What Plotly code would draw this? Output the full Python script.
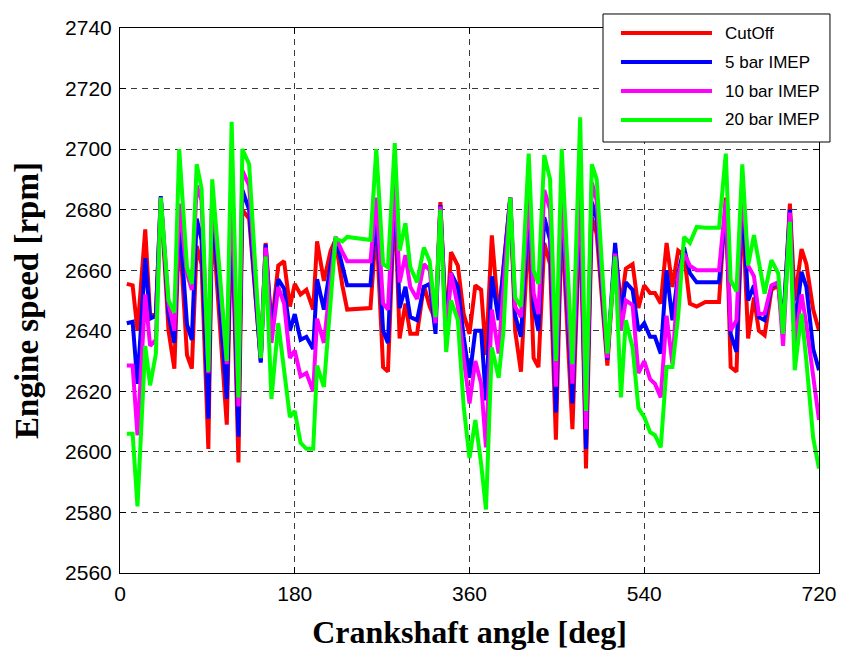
import plotly.graph_objects as go

angle = [7, 13, 18, 26, 31, 37, 42, 50, 56, 61, 69, 74, 79, 84, 91, 95, 110, 115, 122, 126,
         133, 145, 150, 156, 163, 169, 175, 180, 186, 192, 199, 203, 210, 217, 222, 229, 234, 258, 264, 271,
         276, 283, 288, 294, 299, 306, 313, 319, 325, 330, 336, 341, 348, 354, 360, 366, 372, 377, 383, 390,
         395, 402, 407, 413, 421, 426, 431, 437, 443, 449, 455, 466, 474, 480, 486, 491, 502, 510, 516, 521,
         528, 534, 540, 546, 551, 557, 563, 569, 575, 581, 587, 594, 603, 617, 624, 629, 635, 641, 647, 653,
         658, 664, 671, 678, 683, 690, 695, 702, 707, 714, 720]

cutoff = [2655.5, 2655, 2640, 2673.5, 2645, 2645.5, 2684, 2640, 2627.5, 2675, 2632, 2627.5, 2668, 2662, 2601, 2678, 2609, 2680, 2596.5, 2680,
          2677, 2630, 2669, 2641, 2661.5, 2663, 2648, 2655.5, 2652, 2653.5, 2647, 2669.5, 2656.5, 2666.5, 2670, 2655, 2647, 2647.5, 2675, 2628,
          2626.5, 2685, 2637.5, 2649, 2639, 2639, 2655, 2648, 2643.5, 2682.5, 2640, 2666, 2661.5, 2645.5, 2639, 2655, 2653.5, 2632, 2671.5, 2644.5,
          2661, 2684, 2640, 2626.5, 2675, 2631, 2628, 2669, 2662, 2604, 2677, 2607.5, 2680, 2594.5, 2677.5, 2672, 2628.5, 2667.5, 2648, 2660.5,
          2662, 2647.5, 2655, 2652.5, 2652.5, 2649, 2669, 2654.5, 2666.5, 2665, 2649, 2648, 2649.5, 2649.5, 2684, 2628, 2626.5, 2682, 2637.5, 2651,
          2640, 2638.5, 2653.5, 2655, 2640, 2682, 2650, 2667, 2662, 2647, 2640]

bar5 = [2642.5, 2643, 2622.5, 2664, 2644, 2645, 2684.5, 2645.5, 2636, 2678, 2642, 2637, 2677, 2670, 2611, 2683, 2617.5, 2683, 2605, 2686.5,
        2680, 2629.5, 2668.5, 2640, 2657, 2654, 2640, 2645.5, 2637, 2638, 2634, 2657, 2647, 2662, 2670.5, 2662, 2655, 2655, 2680, 2640,
        2636, 2688, 2647.5, 2654.5, 2644.5, 2643.5, 2654.5, 2655.5, 2639, 2681.5, 2641, 2659, 2654.5, 2638, 2624.5, 2640, 2640, 2617, 2658, 2643.5,
        2660, 2684, 2645, 2638, 2680, 2648, 2640, 2677.5, 2670, 2613, 2682, 2616, 2684, 2601, 2682.5, 2677, 2630.5, 2669, 2645, 2656,
        2653.5, 2640, 2642.5, 2638, 2638, 2632.5, 2660, 2643.5, 2659, 2667.5, 2659, 2656, 2656, 2656, 2681, 2639, 2633, 2685, 2650, 2655,
        2644.5, 2643.5, 2654.5, 2656, 2642, 2680, 2640, 2659.5, 2654.5, 2634, 2627]

bar10 = [2628.5, 2628.5, 2605.5, 2652, 2635, 2637, 2684, 2649, 2640, 2682, 2659, 2653.5, 2688, 2683, 2626, 2686, 2629, 2690, 2615, 2693,
         2688, 2631, 2667.5, 2636, 2654.5, 2649, 2631, 2633.5, 2625, 2626, 2620, 2644, 2636, 2658, 2671, 2666, 2663, 2663, 2684, 2649,
         2647, 2690, 2656, 2665, 2654.5, 2650.5, 2662, 2660, 2642.5, 2681, 2636, 2659, 2648, 2631, 2616, 2630, 2622.5, 2601.5, 2647, 2632.5,
         2655, 2684, 2648, 2644.5, 2686, 2652.5, 2645.5, 2686.5, 2680, 2621.5, 2687, 2622.5, 2690, 2607.5, 2689, 2683, 2631, 2665.5, 2640, 2650,
         2648.5, 2626, 2630, 2624, 2622.5, 2618, 2645, 2629, 2658, 2665.5, 2661.5, 2660, 2660, 2660, 2683, 2640, 2643.5, 2688, 2661.5, 2658,
         2645.5, 2645.7, 2655, 2656, 2635, 2679, 2635, 2652, 2642, 2625, 2610.5]

bar20 = [2606, 2606, 2582, 2635, 2622, 2632.5, 2684, 2650, 2646, 2700, 2661, 2655.5, 2695, 2687, 2626.5, 2690, 2630, 2709, 2618, 2700,
         2695, 2631, 2664.5, 2617.5, 2642.5, 2627, 2611.5, 2613.5, 2603, 2601, 2601, 2628.5, 2621.5, 2650, 2670.5, 2669.5, 2671, 2670, 2700, 2662,
         2661, 2702, 2666.5, 2675.5, 2661, 2656, 2667.5, 2663, 2644.5, 2680, 2633, 2650, 2643.5, 2615, 2598, 2610.5, 2596, 2581, 2634.5, 2624.5,
         2640, 2684, 2651, 2648, 2698.5, 2660, 2655.5, 2698, 2690, 2630, 2700, 2629, 2710.5, 2613.5, 2695, 2690, 2632.5, 2664.5, 2618, 2643.5,
         2634.5, 2614.5, 2611.5, 2606.5, 2605.5, 2601.5, 2628, 2628, 2645, 2671, 2669, 2674.3, 2674, 2674, 2698.5, 2656.7, 2653, 2695, 2661.6, 2671.6,
         2663, 2652.3, 2663.3, 2659, 2639, 2676, 2627, 2645.7, 2630, 2604.6, 2594.5]

series_names = ["CutOff", "5 bar IMEP", "10 bar IMEP", "20 bar IMEP"]
series_values = [cutoff, bar5, bar10, bar20]
series_colors = ["#FF0000", "#0000FF", "#FF00FF", "#00FF00"]

x_ticks = [0, 180, 360, 540, 720]
y_ticks = [2560, 2580, 2600, 2620, 2640, 2660, 2680, 2700, 2720, 2740]

fig = go.Figure()
for name, vals, col in zip(series_names, series_values, series_colors):
    fig.add_trace(go.Scatter(x=angle, y=vals, mode="lines", name=name,
                             line=dict(color=col, width=4)))

axis_common = dict(
    showline=True, linecolor="black", linewidth=1, mirror="ticks",
    ticks="inside", ticklen=6, tickcolor="black",
    showgrid=True, gridcolor="#3a3a3a", gridwidth=1, griddash="6px,5px",
    zeroline=False, automargin=False,
    tickfont=dict(family="Liberation Sans, Arial, sans-serif", size=21, color="black"),
)

fig.update_xaxes(range=[0, 720], tickvals=x_ticks, ticktext=[str(v) for v in x_ticks],
                 ticklabelstandoff=2,
                 title=dict(text="<b>Crankshaft angle [deg]</b>", standoff=16,
                            font=dict(family="Liberation Serif, Times New Roman, serif", size=32, color="black")),
                 **axis_common)
fig.update_yaxes(range=[2560, 2740], tickvals=y_ticks, ticktext=[str(v) for v in y_ticks],
                 ticklabelstandoff=3,
                 title=dict(text="<b>Engine speed [rpm]</b>", standoff=16,
                            font=dict(family="Liberation Serif, Times New Roman, serif", size=33, color="black")),
                 **axis_common)

# Legend drawn as a MATLAB-style box (paper coordinates of the plot area)
L_box = dict(x0=0.691, x1=1.0157, y0=0.7908, y1=1.0257)
L_line_x = (0.7167, 0.8469)
L_text_x = 0.8627
L_rows_y = [0.9908, 0.9376, 0.8844, 0.8312]

shapes = [dict(type="rect", xref="paper", yref="paper", layer="above",
               line=dict(color="black", width=1), fillcolor="white", **L_box)]
annotations = []
for name, col, yy in zip(series_names, series_colors, L_rows_y):
    shapes.append(dict(type="line", xref="paper", yref="paper", layer="above",
                       x0=L_line_x[0], x1=L_line_x[1], y0=yy, y1=yy,
                       line=dict(color=col, width=4)))
    annotations.append(dict(xref="paper", yref="paper", x=L_text_x, y=yy,
                            xanchor="left", yanchor="middle", showarrow=False,
                            text=name,
                            font=dict(family="Liberation Sans, Arial, sans-serif", size=17, color="black")))

fig.update_layout(
    width=841, height=650,
    margin=dict(l=120, r=22, t=28, b=77),
    paper_bgcolor="white", plot_bgcolor="white",
    showlegend=False,
    shapes=shapes,
    annotations=annotations,
)

fig.write_html("out.html")
